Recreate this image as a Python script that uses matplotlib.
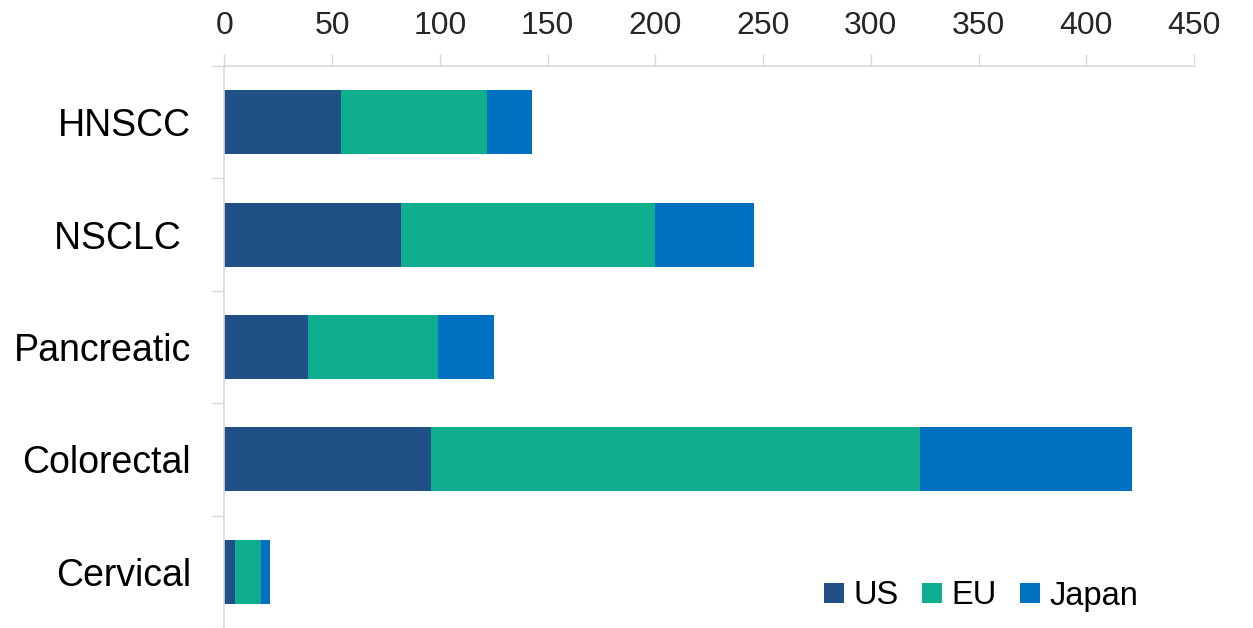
import matplotlib
matplotlib.use("Agg")
import matplotlib.pyplot as plt
import numpy as np

categories = ["HNSCC", "NSCLC ", "Pancreatic", "Colorectal", "Cervical"]
us = [54, 82, 39, 96, 5]
eu = [68, 118, 60, 227, 12]
japan = [21, 46, 26, 98, 4]
xticks = [0, 50, 100, 150, 200, 250, 300, 350, 400, 450]

plt.rcParams["font.family"] = ["Liberation Sans", "DejaVu Sans"]

grey = "#d9d9d9"
c_us, c_eu, c_jp = "#215086", "#0fae8e", "#0070c0"

fig = plt.figure(figsize=(12.53, 6.28), dpi=100)
ax = fig.add_axes([224.3 / 1253, 0.0, (1194 - 224.3) / 1253, 1 - 66 / 628])

y = np.arange(len(categories))
left = np.zeros(len(categories))
for vals, col, lab in [(us, c_us, "US"), (eu, c_eu, "EU"), (japan, c_jp, "Japan")]:
    ax.barh(y, vals, left=left, height=0.57, color=col, label=lab)
    left += np.array(vals)

ax.set_xlim(0, 450)
ax.set_ylim(len(categories) - 0.5, -0.5)
ax.set_xticks(xticks)
ax.xaxis.tick_top()
ax.tick_params(axis="x", which="major", length=9, width=1, color=grey,
               labelsize=23, labelcolor="#262626", pad=9)

ax.set_yticks(y)
ax.set_yticklabels(categories)
ax.set_yticks(np.arange(-0.5, len(categories), 1), minor=True)
ax.tick_params(axis="y", which="major", length=0, labelsize=27, pad=24)
ax.tick_params(axis="y", which="minor", length=9, width=1, color=grey)

for s in ["right", "bottom"]:
    ax.spines[s].set_visible(False)
for s in ["top", "left"]:
    ax.spines[s].set_color(grey)
    ax.spines[s].set_linewidth(1.2)

fig.legend(loc="center right", bbox_to_anchor=(1155 / 1253, 1 - 596 / 628),
           ncol=3, frameon=False, fontsize=23.5, borderpad=0,
           handlelength=0.6, handleheight=0.6, handletextpad=0.3,
           columnspacing=0.72)

fig.savefig("out.png", dpi=100)
